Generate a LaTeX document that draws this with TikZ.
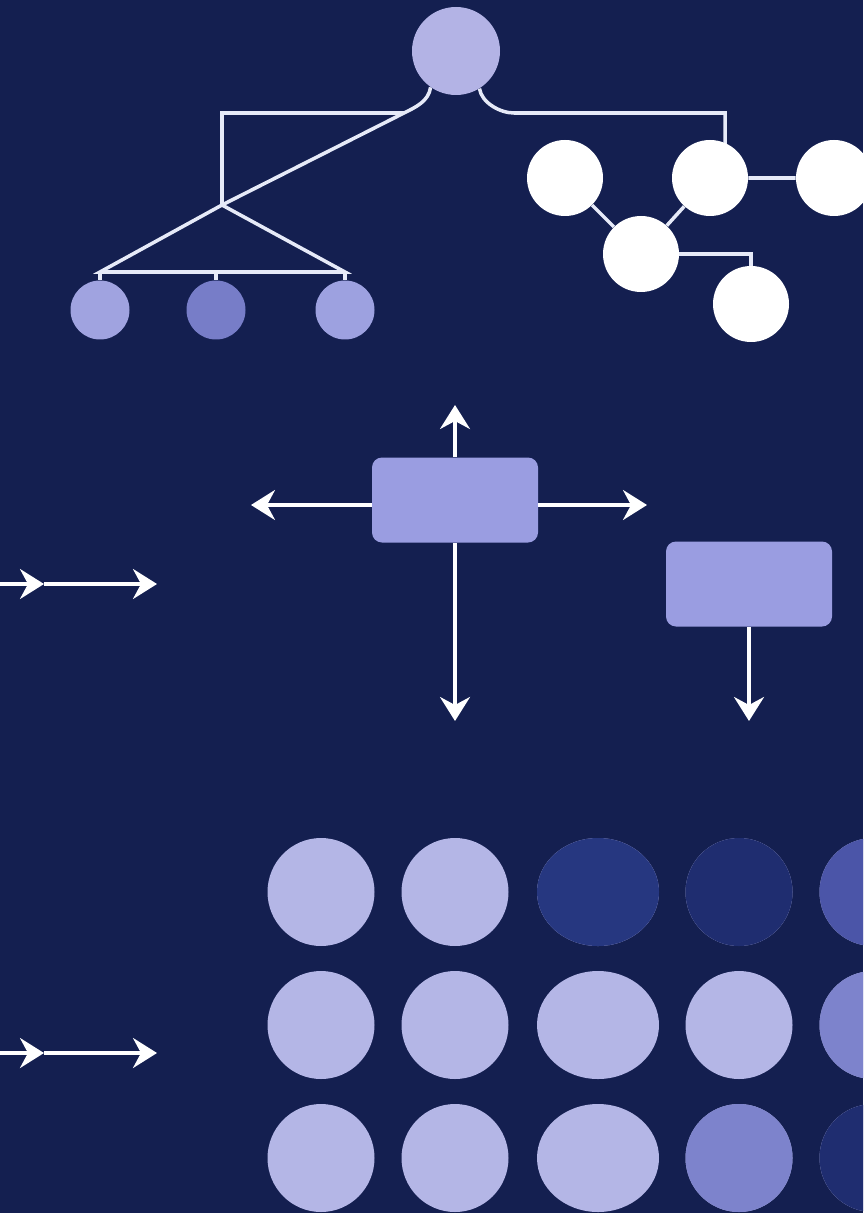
\documentclass[tikz,border=0pt]{standalone}
\usepackage{xcolor}
\usepackage{tikz}
\usetikzlibrary{arrows.meta,shapes.geometric,backgrounds}

\definecolor{navy}{HTML}{141F50}
\definecolor{linkwhite}{HTML}{E6EAF8}
\definecolor{rootlilac}{HTML}{B3B3E5}
\definecolor{leafA}{HTML}{A0A3E0}
\definecolor{leafB}{HTML}{777DC8}
\definecolor{leafC}{HTML}{9DA1E0}
\definecolor{boxlilac}{HTML}{9A9DE1}
\definecolor{dotlight}{HTML}{B4B6E6}
\definecolor{dotmid}{HTML}{7D83CC}
\definecolor{dotdeep}{HTML}{263780}
\definecolor{dotdark}{HTML}{1F2D70}
\definecolor{dotsoft}{HTML}{4B55A8}

\begin{document}
\begin{tikzpicture}[x=0.2mm, y=-0.2mm,
  link/.style={draw=linkwhite, line width=2pt},
  arr/.style={draw=white, line width=2pt, -{Stealth[length=4.8mm,width=6mm,inset=1.6mm]}},
  ball/.style={circle, inner sep=0pt, minimum size=#1},
  card/.style={rectangle, rounded corners=2mm, fill=boxlilac, minimum width=33.2mm, minimum height=17mm},
  dot/.style={ellipse, inner sep=0pt, minimum height=21.6mm}]

\useasboundingbox (0,0) rectangle (863,1213);
\clip (0,0) rectangle (863,1213);

% tree on the left
\node[ball=17.6mm, fill=rootlilac] (root) at (456,51) {};
\node[ball=11.8mm, fill=leafA] (leaf1) at (100,310) {};
\node[ball=11.8mm, fill=leafB] (leaf2) at (216,310) {};
\node[ball=11.8mm, fill=leafC] (leaf3) at (345,310) {};
\coordinate (lj) at (404,113);
\coordinate (lk) at (222,113);
\coordinate (split) at (222,205);
\coordinate (bar) at (0,272);

% white graph on the right
\node[ball=15.2mm, fill=white] (gA) at (565,178) {};
\node[ball=15.2mm, fill=white] (gB) at (710,178) {};
\node[ball=15.2mm, fill=white] (gC) at (834,178) {};
\node[ball=15.2mm, fill=white] (gD) at (641,254) {};
\node[ball=15.2mm, fill=white] (gE) at (751,304) {};
\coordinate (rj) at (514,113);
\coordinate (rk) at (725,113);

\begin{scope}[on background layer]
  \fill[navy] (0,0) rectangle (863,1213);
  \draw[link] (root.235) .. controls +(-2,14) and +(12,-6) .. (lj) -- (split);
  \draw[link] (lj) -- (lk) -- (split);
  \draw[link] (split) -- (leaf1.north |- bar) -- (leaf3.north |- bar) -- (split);
  \draw[link] (leaf1.north) -- (leaf1.north |- bar);
  \draw[link] (leaf2.north) -- (leaf2.north |- bar);
  \draw[link] (leaf3.north) -- (leaf3.north |- bar);
  \draw[link] (root.302) .. controls +(2,14) and +(-14,0) .. (rj) -- (rk) -- (rk |- gB.center);
  \draw[link] (gA) -- (gD) -- (gB) -- (gC);
  \draw[link] (gD.east) -| (gE.north);
\end{scope}

% boxes with arrows
\node[card] (hub) at (455,500) {};
\node[card] (side) at (749,584) {};
\coordinate (up) at (0,405);
\coordinate (lt) at (251,505);
\coordinate (rt) at (647,505);
\coordinate (dn) at (0,721);
\draw[arr] (hub.north) -- (hub.north |- up);
\draw[arr] (hub.west |- lt) -- (lt);
\draw[arr] (hub.east |- rt) -- (rt);
\draw[arr] (hub.south) -- (hub.south |- dn);
\draw[arr] (side.south) -- (side.south |- dn);

% incoming arrows on the left edge
\coordinate (in1) at (0,584);
\coordinate (mid1) at (44,584);
\coordinate (end1) at (157,584);
\coordinate (in2) at (0,1053);
\coordinate (mid2) at (44,1053);
\coordinate (end2) at (157,1053);
\draw[arr] (in1) -- (mid1);
\draw[arr] (mid1) -- (end1);
\draw[arr] (in2) -- (mid2);
\draw[arr] (mid2) -- (end2);

% grid of dots
\foreach \r/\y in {1/892,2/1025,3/1158}
  \foreach \c/\x/\w in {1/321/21.4mm,2/455/21.4mm,3/598/24.4mm,4/739/21.4mm,5/873/21.4mm}
    \node[dot, minimum width=\w, fill=dotlight] (dot\r\c) at (\x,\y) {};
\fill[dotdeep] (dot13.center) ellipse (12.2mm and 10.8mm);
\fill[dotdark] (dot14.center) ellipse (10.7mm and 10.8mm);
\fill[dotsoft] (dot15.center) ellipse (10.7mm and 10.8mm);
\fill[dotmid] (dot25.center) ellipse (10.7mm and 10.8mm);
\fill[dotmid] (dot34.center) ellipse (10.7mm and 10.8mm);
\fill[dotdark] (dot35.center) ellipse (10.7mm and 10.8mm);
\end{tikzpicture}
\end{document}
